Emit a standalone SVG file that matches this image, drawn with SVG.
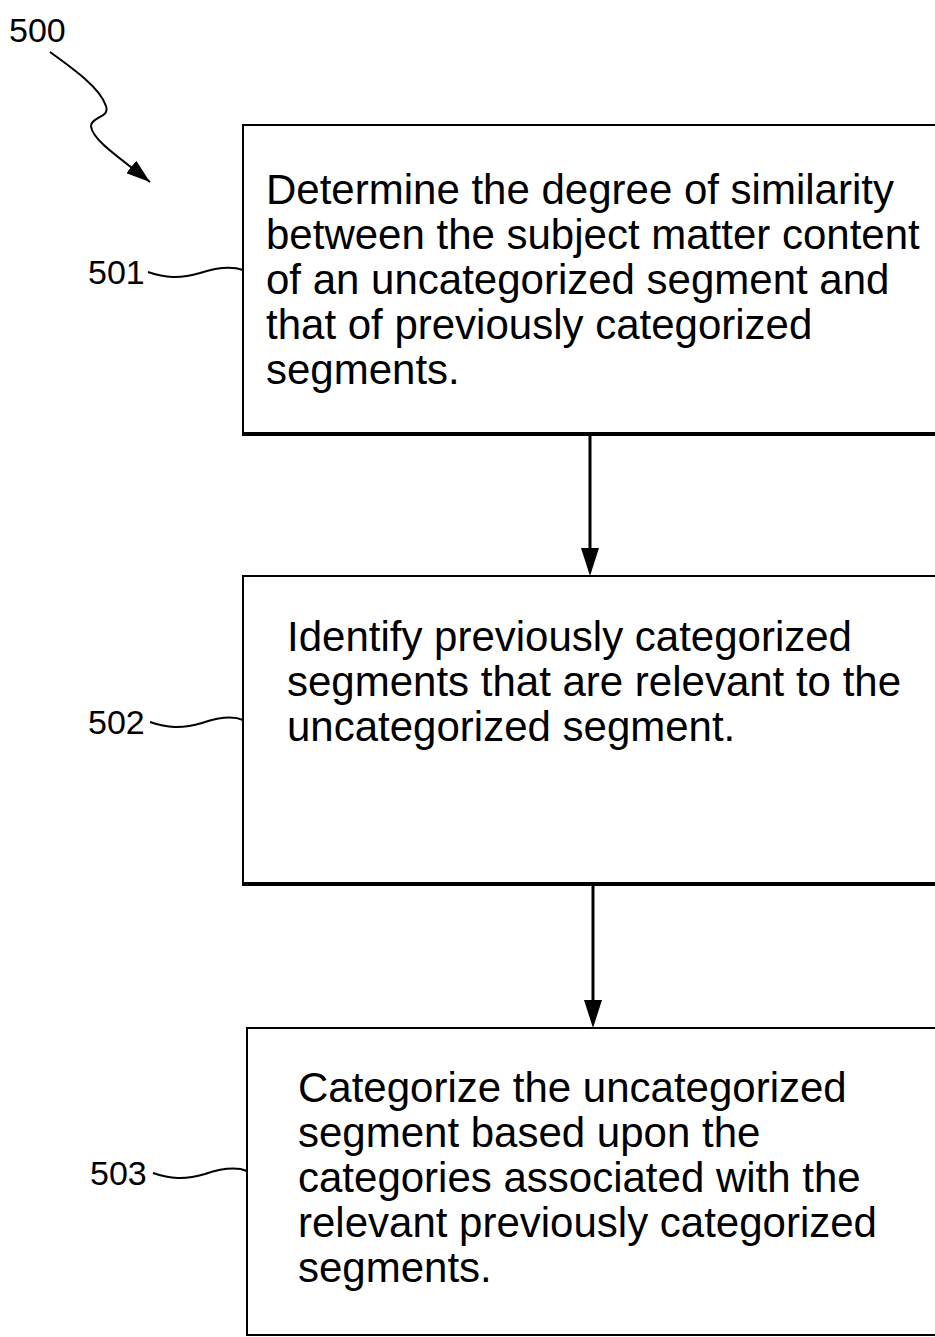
<svg xmlns="http://www.w3.org/2000/svg" width="935" height="1337" viewBox="0 0 935 1337">
<defs>
<marker id="ah2" markerWidth="24" markerHeight="16" refX="24" refY="8" orient="auto" markerUnits="userSpaceOnUse" viewBox="0 0 24 16">
<path d="M0,0 L24,8 L0,16 Z" fill="#000"/>
</marker>
<style>
.box{fill:#fff;stroke:#000;stroke-width:2}
.base{stroke:#000;stroke-width:4}
.t{font-family:"Liberation Sans",Arial,sans-serif;font-size:42px;fill:#000}
.lbl{font-family:"Liberation Sans",Arial,sans-serif;font-size:34px;fill:#000}
.wire{fill:none;stroke:#000;stroke-width:2}
.conn{stroke:#000;stroke-width:3}
</style>
</defs>
<g id="ref500">
<text class="lbl" x="9" y="42">500</text>
<path class="wire" d="M50,52 C75,70 100,88 106,106 C110,118 92,116 91,126 C92,140 120,158 150,182" marker-end="url(#ah2)"/>
</g>
<g id="n501">
<rect class="box" x="243" y="125" width="700" height="310"/>
<line class="base" x1="243" y1="434" x2="935" y2="434"/>
<text class="t"><tspan x="266" y="204">Determine the degree of similarity</tspan><tspan x="266" y="249">between the subject matter content</tspan><tspan x="266" y="294">of an uncategorized segment and</tspan><tspan x="266" y="339">that of previously categorized</tspan><tspan x="266" y="384">segments.</tspan></text>
<text class="lbl" x="88" y="284">501</text>
<path class="wire" d="M148,272 C165,278 180,279 200,273 C218,267 232,266 243,270"/>
</g>
<g id="n502">
<rect class="box" x="243" y="576" width="700" height="309"/>
<line class="base" x1="243" y1="884" x2="935" y2="884"/>
<text class="t"><tspan x="287" y="651">Identify previously categorized</tspan><tspan x="287" y="696">segments that are relevant to the</tspan><tspan x="287" y="741">uncategorized segment.</tspan></text>
<text class="lbl" x="88" y="734">502</text>
<path class="wire" d="M150,722 C167,728 182,729 202,723 C220,717 234,716 243,720"/>
</g>
<g id="n503">
<rect class="box" x="247" y="1028" width="700" height="307"/>
<text class="t"><tspan x="298" y="1102">Categorize the uncategorized</tspan><tspan x="298" y="1147">segment based upon the</tspan><tspan x="298" y="1192">categories associated with the</tspan><tspan x="298" y="1237">relevant previously categorized</tspan><tspan x="298" y="1282">segments.</tspan></text>
<text class="lbl" x="90" y="1185">503</text>
<path class="wire" d="M153,1173 C170,1179 185,1180 205,1174 C223,1168 237,1167 247,1171"/>
</g>
<g id="connectors">
<line class="conn" x1="590" y1="436" x2="590" y2="548"/>
<path d="M581,548 L599,548 L590,576 Z" fill="#000"/>
<line class="conn" x1="593" y1="886" x2="593" y2="1000"/>
<path d="M584,1000 L602,1000 L593,1028 Z" fill="#000"/>
</g>
</svg>
